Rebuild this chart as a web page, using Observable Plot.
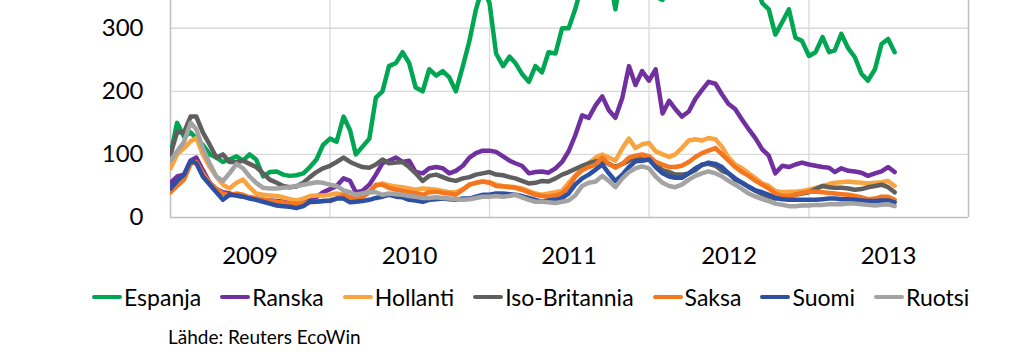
<!DOCTYPE html>
<html><head><meta charset="utf-8">
<script src="https://cdn.jsdelivr.net/npm/d3@7"></script>
<script src="https://cdn.jsdelivr.net/npm/@observablehq/plot@0.6"></script>
<style>
body{margin:0;background:#fff;font-family:Lato,"Open Sans",sans-serif;}
#wrap{position:relative;width:1024px;height:356px;overflow:hidden;background:#fff}
#legend{position:absolute;left:92px;top:282px;display:flex;gap:19px;font-size:23px;color:#000;white-space:nowrap;line-height:30px}
.item{display:flex;align-items:center}
.sw{width:30px;height:4px;border-radius:2px;margin-right:2px}
#caption{position:absolute;left:168px;top:325px;font-size:19px;color:#000}
</style></head><body>
<div id="wrap"><div id="chart"></div><div id="legend"></div><div id="caption">Lähde: Reuters EcoWin</div></div>
<script>
const countries = ["Espanja","Ranska","Hollanti","Iso-Britannia","Saksa","Suomi","Ruotsi"];
const colors = ["#00A651","#7030A0","#F8A541","#5F5F5F","#F4761F","#2E50A2","#A3A3A3"];
const yearLabels = [2009,2010,2011,2012,2013];

const espanja = [100,150,128,135,125,115,100,95,88,92,97,90,100,92,65,72,73,68,66,67,70,80,92,115,125,120,160,138,100,112,125,190,200,240,245,262,245,206,200,235,225,232,222,200,240,280,330,365,340,260,240,255,245,228,215,240,230,262,260,300,300,330,370,360,380,400,390,330,400,420,410,390,370,350,345,380,420,450,420,470,520,550,560,600,520,470,430,400,370,340,330,290,310,330,285,280,256,262,286,262,265,291,268,254,228,217,235,275,283,262];
const ranska = [55,65,68,90,95,75,55,45,40,38,35,33,32,30,28,27,26,25,25,26,28,30,32,40,45,50,62,58,40,42,52,68,86,90,95,88,90,72,70,78,80,78,70,74,82,95,102,106,106,104,97,90,86,82,70,72,73,71,78,88,105,130,162,158,178,192,170,158,190,240,210,232,217,235,165,185,172,160,168,188,202,215,212,195,180,172,155,140,125,108,98,70,82,80,84,87,84,82,80,79,72,78,74,73,71,66,70,73,80,72];
const hollanti = [78,100,110,121,126,100,80,65,52,46,55,60,48,38,36,35,34,32,29,27,30,34,35,35,36,38,36,32,33,36,42,50,54,51,49,48,46,44,46,45,44,42,40,40,45,52,55,57,56,52,50,49,48,46,42,38,36,38,40,42,55,66,78,86,95,100,95,90,110,125,110,116,118,105,100,96,100,110,122,124,122,126,124,112,95,84,78,70,62,54,50,42,40,41,41,42,44,47,50,53,55,56,57,56,55,54,55,56,58,50];
const isoBritannia = [100,135,135,160,160,135,115,95,100,88,88,90,85,80,70,60,55,50,48,49,55,64,72,78,82,88,95,88,84,80,79,84,92,86,87,88,80,70,58,66,68,64,60,58,62,64,68,70,72,68,67,64,62,58,54,55,58,57,62,68,72,77,82,86,89,90,85,80,85,90,95,92,92,85,75,72,68,68,70,75,84,85,82,74,70,60,55,48,42,37,33,30,32,33,36,38,40,45,50,48,47,47,46,44,45,48,50,52,48,40];
const saksa = [40,50,60,85,88,70,55,45,38,35,38,36,32,30,28,27,25,24,22,22,23,24,25,26,26,30,36,32,28,32,40,52,52,47,44,42,40,39,36,40,41,39,38,36,44,52,55,57,55,50,49,48,47,44,40,36,34,33,35,38,48,65,75,80,84,95,85,79,85,95,98,100,97,88,84,80,80,82,88,96,102,106,110,100,90,80,72,66,58,52,46,38,34,34,36,39,41,41,40,39,38,37,36,34,32,29,30,33,33,28];
const suomi = [46,58,68,90,86,65,52,40,28,36,35,33,30,28,25,22,19,18,17,15,18,25,25,26,27,30,30,24,25,26,28,31,33,36,33,32,28,27,25,28,29,30,29,28,30,30,33,36,36,38,38,37,36,34,31,28,25,27,28,31,38,52,62,68,76,84,70,58,68,80,89,90,92,80,70,65,63,63,70,78,83,87,85,80,70,62,55,49,43,40,36,31,29,28,28,28,28,28,29,30,30,29,29,28,27,26,26,27,27,24];
const ruotsi = [90,105,120,150,140,110,85,65,58,70,85,78,65,55,47,46,46,47,48,50,52,54,56,55,52,50,43,40,36,38,40,40,36,38,37,36,34,33,31,31,32,31,30,29,28,29,31,33,33,34,33,34,36,32,28,25,25,24,23,25,27,35,50,55,57,66,58,48,62,72,78,81,78,65,55,50,48,52,60,66,70,73,70,65,58,52,45,38,33,29,26,22,20,18,18,19,19,20,20,21,21,21,22,22,21,20,19,20,21,18];

const series = [espanja, ranska, hollanti, isoBritannia, saksa, suomi, ruotsi];

// semi-monthly observation dates (1st and 16th of each month from Jan 2009)
const dates = [];
for (let y = 2009; y <= 2013; y++) for (let m = 0; m < 12; m++) for (const d of [1, 16]) dates.push(new Date(Date.UTC(y, m, d)));

const rows = [];
countries.forEach((c, k) => series[k].forEach((v, i) => rows.push({country: c, date: dates[i], value: v})));

const start = new Date(Date.UTC(2009,0,1)), end = new Date(Date.UTC(2014,0,1));
const yearStarts = yearLabels.slice(1).map(y => new Date(Date.UTC(y,0,1)));
const yearMids = yearLabels.map(y => new Date(Date.UTC(y,6,2)));

const chart = Plot.plot({
  width: 1024, height: 270,
  marginLeft: 170, marginRight: 56, marginTop: 0, marginBottom: 53,
  style: {fontFamily: "Lato, 'Open Sans', sans-serif", fontSize: "24px", color: "#000", background: "#fff"},
  x: {type: "utc", domain: [start, end], ticks: yearMids, tickFormat: d => String(d.getUTCFullYear()), tickSize: 0, tickPadding: 29, label: null},
  y: {domain: [0, 344], ticks: [0, 100, 200, 300], tickSize: 0, tickPadding: 27, label: null},
  color: {domain: countries, range: colors},
  marks: [
    Plot.ruleY([100, 200, 300], {stroke: "#D9D9D9", strokeWidth: 1.3}),
    Plot.ruleX(yearStarts, {stroke: "#D9D9D9", strokeWidth: 1.3}),
    Plot.ruleY([0], {stroke: "#BFBFBF", strokeWidth: 1.5}),
    Plot.ruleX([start, end], {stroke: "#BFBFBF", strokeWidth: 1.5}),
    Plot.lineY(rows, {x: "date", y: "value", z: "country", stroke: "country", strokeWidth: 4.5, strokeLinejoin: "round", clip: true})
  ]
});
document.getElementById("chart").appendChild(chart);

const legend = document.getElementById("legend");
countries.forEach((c, k) => {
  const it = document.createElement("div"); it.className = "item";
  const sw = document.createElement("span"); sw.className = "sw"; sw.style.background = colors[k];
  const tx = document.createElement("span"); tx.textContent = c;
  it.appendChild(sw); it.appendChild(tx); legend.appendChild(it);
});
</script>
</body></html>
